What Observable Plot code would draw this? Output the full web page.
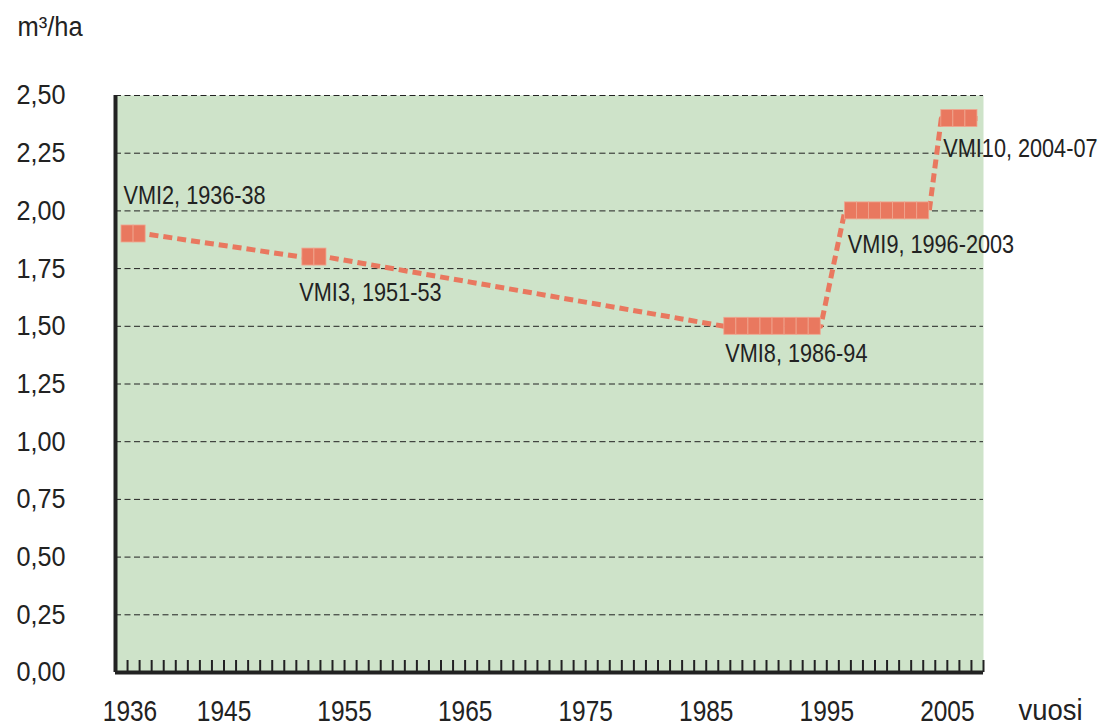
<!DOCTYPE html>
<html><head><meta charset="utf-8">
<script src="https://cdn.jsdelivr.net/npm/d3@7"></script>
<script src="https://cdn.jsdelivr.net/npm/@observablehq/plot@0.6"></script>
<style>body{margin:0;background:#fff;}</style>
</head><body><div id="chart"></div>
<script>
// ---- data ----
const surveys = ["VMI2", "VMI3", "VMI8", "VMI9", "VMI10"];
const periods = ["1936-38", "1951-53", "1986-94", "1996-2003", "2004-07"];
const startYears = [1936, 1951, 1986, 1996, 2004];
const endYears = [1938, 1953, 1994, 2003, 2007];
const growth = [1.90, 1.80, 1.50, 2.00, 2.40];
const yTicks = [0, 0.25, 0.5, 0.75, 1.0, 1.25, 1.5, 1.75, 2.0, 2.25, 2.5];
const xTickLabels = [1936, 1945, 1955, 1965, 1975, 1985, 1995, 2005];
const unitLabel = "m³/ha";
const xName = "vuosi";

// ---- build ----
const rows = surveys.map((s, i) => ({s, label: `${s}, ${periods[i]}`, x1: startYears[i], x2: endYears[i], v: growth[i]}));
const linePts = rows.flatMap(r => [{x: r.x1, v: r.v}, {x: r.x2, v: r.v}]);
const squares = rows.flatMap(r => d3.range(r.x1, r.x2).map(y => ({x1: y, x2: y + 1, v: r.v})));
const minorTicks = d3.range(1936.5, 2008, 1);
const fmtY = d => d.toFixed(2).replace(".", ",");

const W = 1101, H = 727, mL = 115, mR = 118, mT = 95, mB = 55;
const xDomain = [1935.5, 2007.5];
const pxPerUnit = (H - mT - mB) / 2.5;
const halfH = 8.5 / pxPerUnit;
const coral = "#e9785f";
const font = "'Liberation Sans', Arial, sans-serif";

// label offsets (px) relative to survey start point
const labelLayout = {
  VMI2: {dx: 2, dy: -30},
  VMI3: {dx: -3, dy: 44},
  VMI8: {dx: 1, dy: 36},
  VMI9: {dx: 3, dy: 42},
  VMI10: {dx: 2, dy: 38}
};

const labelMarks = rows.map(r => Plot.text([r], {
  x: "x1", y: "v", text: "label", textAnchor: "start", lineAnchor: "bottom",
  dx: labelLayout[r.s].dx, dy: labelLayout[r.s].dy, fontSize: 25.5, fill: "#222"
}));

const chart = Plot.plot({
  width: W, height: H,
  marginLeft: mL, marginRight: mR, marginTop: mT, marginBottom: mB,
  style: {fontFamily: font, background: "#fff", color: "#222", overflow: "visible"},
  x: {domain: xDomain, axis: null},
  y: {domain: [0, 2.5], axis: null},
  marks: [
    Plot.frame({fill: "#cee3c9", stroke: null}),
    Plot.ruleY(yTicks.filter(d => d > 0), {stroke: "#222", strokeWidth: 1, strokeDasharray: "6,3.5"}),
    Plot.tickX(minorTicks, {x: d => d, stroke: "#222", strokeWidth: 2, insetTop: (H - mT - mB) - 12}),
    Plot.ruleX([xDomain[0]], {stroke: "#222", strokeWidth: 4, y1: 0, y2: 2.5}),
    Plot.ruleY([0], {stroke: "#222", strokeWidth: 4}),
    Plot.text(yTicks, {y: d => d, text: fmtY, frameAnchor: "left", textAnchor: "end",
      dx: -50, fontSize: 28, fill: "#222"}),
    Plot.text(xTickLabels, {x: d => Math.max(d, 1937.2), text: d => String(d), frameAnchor: "bottom",
      lineAnchor: "top", dy: 28, dx: -6, fontSize: 29.5, fill: "#222"}),
    Plot.line(linePts, {x: "x", y: "v", stroke: coral, strokeWidth: 5, strokeDasharray: "9,5", strokeLinecap: "butt"}),
    Plot.rect(squares, {x1: "x1", x2: "x2", y1: d => d.v - halfH, y2: d => d.v + halfH,
      fill: coral, stroke: "#f0a690", strokeWidth: 0.8}),
    ...labelMarks,
    Plot.text([unitLabel], {frameAnchor: "top-left", dx: -98, dy: -60, textAnchor: "start", lineAnchor: "bottom",
      fontSize: 28, fill: "#222"}),
    Plot.text([xName], {frameAnchor: "bottom-right", dx: 35, dy: 47, textAnchor: "start", lineAnchor: "bottom",
      fontSize: 29.5, fill: "#222"})
  ]
});

// condensed look: squeeze glyphs horizontally around each text's anchor point
const yStrings = new Set(yTicks.map(fmtY));
const xStrings = new Set(xTickLabels.map(String));
const labelStrings = new Set(rows.map(r => r.label));
chart.querySelectorAll("text").forEach(t => {
  const s = t.textContent;
  let k = null;
  if (yStrings.has(s)) k = 0.9;
  else if (xStrings.has(s)) k = 0.83;
  else if (labelStrings.has(s)) k = 0.85;
  else if (s === unitLabel) k = 0.91;
  else if (s === xName) k = 0.93;
  if (k) {
    const tr = t.getAttribute("transform") || "";
    t.setAttribute("transform", `${tr} scale(${k},1)`);
  }
});
document.getElementById("chart").append(chart);
</script>
</body></html>
